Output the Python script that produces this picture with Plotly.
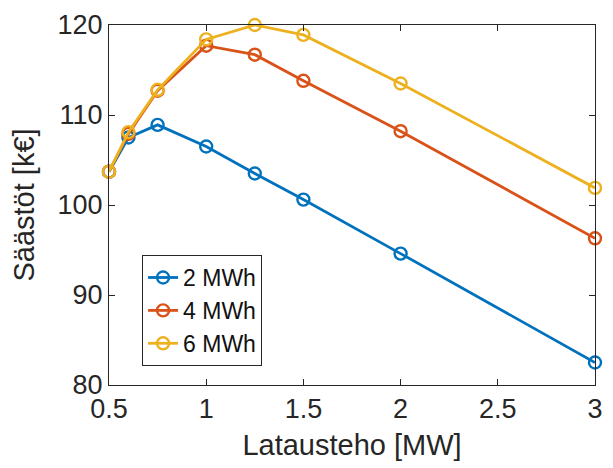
import plotly.graph_objects as go

# Charging power [MW] and savings [k€] per battery capacity
power_mw = [0.5, 0.6, 0.75, 1.0, 1.25, 1.5, 2.0, 3.0]
savings_2mwh = [103.7, 107.5, 108.9, 106.5, 103.5, 100.6, 94.6, 82.5]
savings_4mwh = [103.7, 107.9, 112.7, 117.7, 116.7, 113.8, 108.2, 96.3]
savings_6mwh = [103.7, 108.1, 112.8, 118.4, 120.0, 118.9, 113.5, 101.9]
series_names = ["2 MWh", "4 MWh", "6 MWh"]
series_colors = ["#0072BD", "#D95319", "#EDB120"]

x_ticks = [0.5, 1, 1.5, 2, 2.5, 3]
x_tick_text = ["0.5", "1", "1.5", "2", "2.5", "3"]
y_ticks = [80, 90, 100, 110, 120]

font_family = "Liberation Sans, Arial, Helvetica, sans-serif"
axis_color = "#262626"

fig = go.Figure()
for name, values, color in zip(series_names,
                               [savings_2mwh, savings_4mwh, savings_6mwh],
                               series_colors):
    fig.add_trace(go.Scatter(
        x=power_mw, y=values, name=name, mode="lines+markers",
        line=dict(color=color, width=2.8),
        marker=dict(symbol="circle-open", size=12, color=color,
                    line=dict(width=2.4, color=color)),
        cliponaxis=False,
    ))

axis_common = dict(
    showline=True, linecolor=axis_color, linewidth=1, mirror="ticks",
    ticks="inside", ticklen=6, tickcolor=axis_color, showgrid=False,
    zeroline=False, tickfont=dict(size=27, color=axis_color, family=font_family),
)

fig.update_layout(
    width=613, height=468,
    margin=dict(l=109, r=10, t=25, b=83),
    paper_bgcolor="white", plot_bgcolor="white",
    font=dict(family=font_family, color=axis_color),
    xaxis=dict(range=[0.5, 3], tickvals=x_ticks, ticktext=x_tick_text,
               title=dict(text="Lataustehо [MW]".replace("\u043e", "o"),
                          font=dict(size=29, color=axis_color), standoff=11),
               **axis_common),
    yaxis=dict(range=[80, 120], tickvals=y_ticks,
               title=dict(text="Säästöt [k€]",
                          font=dict(size=29, color=axis_color), standoff=14),
               **axis_common),
    legend=dict(x=0.068, y=0.361, xanchor="left", yanchor="top",
                bgcolor="white", bordercolor="#262626", borderwidth=1,
                font=dict(size=23, color="#111111", family=font_family),
                tracegroupgap=0),
    showlegend=True,
)

fig.write_html("out.html")
